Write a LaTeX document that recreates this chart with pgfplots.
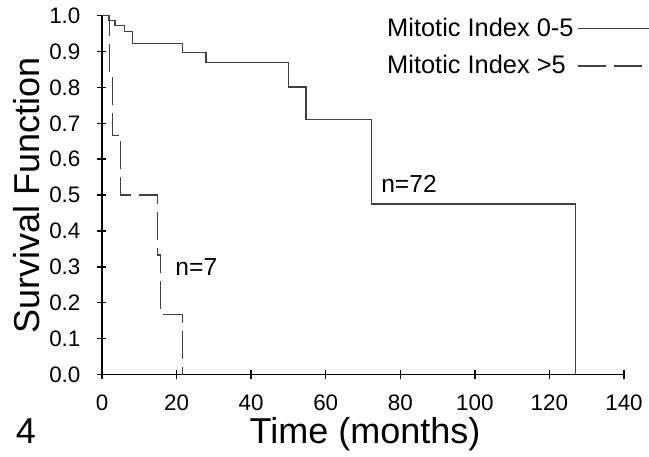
\documentclass[border=0pt]{standalone}
\usepackage{fontspec}
\setmainfont{Liberation Sans}
\usepackage{pgfplots}
\pgfplotsset{compat=1.18}

\begin{document}
\begin{tikzpicture}
\useasboundingbox (-51pt,-40.75pt) rectangle (273.5pt,187.25pt);
\begin{axis}[scale only axis,width=261pt,height=179.4pt,
  xmin=0,xmax=140,ymin=0,ymax=1,clip=false,
  axis lines=left,axis line style={-,line width=0.75pt,black},
  tick align=center,major tick length=4.5pt,
  every tick/.style={black,line width=0.75pt},
  xtick={0,20,40,60,80,100,120,140},
  ytick={0,0.1,0.2,0.3,0.4,0.5,0.6,0.7,0.8,0.9,1.0},
  tick label style={font=\fontsize{11.2}{13}\selectfont},
  /pgf/number format/assume math mode=true,
  xticklabel style={yshift=-4.5pt},
  yticklabel style={xshift=-5pt,/pgf/number format/.cd,fixed,fixed zerofill,precision=1},
  xlabel={Time (months)},
  xlabel style={at={(axis description cs:0.504,0)},anchor=base,yshift=-34.5pt,
    font=\fontsize{18}{20}\selectfont},
  ylabel={Survival Function},
  ylabel style={at={([xshift=-31pt]axis description cs:0,0.499)},anchor=base,
    font=\fontsize{18}{20}\selectfont},
  legend plot pos=right,
  legend image code/.code={\draw[#1] (0pt,0pt) -- (58pt,0pt);},
  legend style={at={(axis description cs:0.538,1.006)},anchor=north west,
    draw=none,fill=none,inner sep=0pt,row sep=4pt,
    font=\fontsize{12.7}{14}\selectfont,cells={anchor=west}},
  ]
  \addplot[const plot,black!75,line width=0.65pt] coordinates {
    (0,1) (1.7,0.986) (3.5,0.972) (6.0,0.955) (8.1,0.922) (21.6,0.898)
    (27.9,0.870) (50.1,0.801) (54.7,0.711) (72.3,0.475) (127,0)};
  \addlegendentry{Mitotic Index 0-5}
  \addplot[const plot,black!75,line width=0.65pt,dash pattern=on 14pt off 4pt] coordinates {
    (0,1) (2.0,0.833) (2.9,0.667) (5.0,0.5) (14.9,0.333) (15.7,0.167) (21.6,0)};
  \addlegendentry{Mitotic Index >5}
  \node[anchor=base west,font=\fontsize{12.3}{14}\selectfont,inner sep=0pt]
    at (axis cs:74.8,0.507) {n=72};
  \node[anchor=base west,font=\fontsize{12.3}{14}\selectfont,inner sep=0pt]
    at (axis cs:19.6,0.275) {n=7};
  \node[anchor=base,font=\fontsize{18}{20}\selectfont,yshift=-34.5pt]
    at (rel axis cs:-0.1456,0) {4};
\end{axis}
\end{tikzpicture}
\end{document}
